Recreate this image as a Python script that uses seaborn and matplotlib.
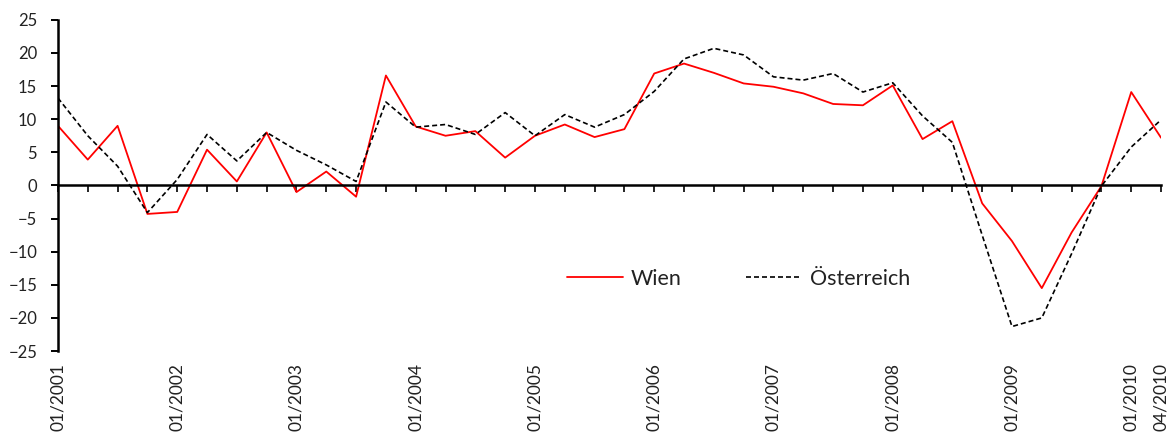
import matplotlib
matplotlib.use("Agg")
import matplotlib.pyplot as plt
import seaborn as sns
import pandas as pd

# Quartale 01/2001 bis 04/2010
years = list(range(2001, 2011))
months = ["01", "04", "07", "10"]
quarters = [f"{m}/{y}" for y in years for m in months][:38]

wien = [9.0, 3.9, 9.0, -4.3, -4.0, 5.4, 0.6, 8.0, -1.0, 2.1, -1.7, 16.6,
        8.9, 7.5, 8.2, 4.2, 7.5, 9.2, 7.3, 8.5, 16.9, 18.4, 17.0, 15.4,
        14.9, 13.9, 12.3, 12.1, 15.1, 7.0, 9.7, -2.7, -8.4, -15.5, -7.1, -0.1, 14.1, 7.2]
oesterreich = [13.2, 7.5, 2.9, -4.1, 0.9, 7.7, 3.7, 8.0, 5.3, 3.1, 0.6, 12.6,
               8.8, 9.2, 7.7, 11.0, 7.5, 10.7, 8.8, 10.7, 14.2, 19.1, 20.7, 19.7,
               16.4, 15.9, 16.9, 14.1, 15.5, 10.5, 6.5, -7.5, -21.3, -20.0, -10.3, -0.1, 5.8, 9.9]

shown_labels = [q for q in quarters if q.startswith("01/")] + [quarters[-1]]

data = pd.DataFrame({"pos": range(len(quarters)), "Quartal": quarters,
                     "Wien": wien, "Österreich": oesterreich})

sns.set_style("white")
plt.rcParams["font.family"] = ["Lato", "DejaVu Sans"]
text_col = "#222222"

fig = plt.figure(figsize=(11.71, 4.41), dpi=100)
ax = fig.add_axes([0.0495, 0.204, 0.942, 0.751])

sns.lineplot(data=data, x="pos", y="Wien", ax=ax, color="#ff0000",
             linewidth=1.3, label="Wien")
sns.lineplot(data=data, x="pos", y="Österreich", ax=ax, color="black",
             linewidth=1.2, linestyle=(0, (3, 1.8)), label="Österreich")

ax.set_xlim(0, len(quarters) - 1)
ax.set_ylim(-25, 25)
ax.set_yticks(range(-25, 30, 5))
ax.set_xlabel("")
ax.set_ylabel("")

# Achsen: linke Achse, x-Achse auf der Nulllinie
for s in ["top", "right"]:
    ax.spines[s].set_visible(False)
ax.spines["left"].set_linewidth(1.8)
ax.spines["left"].set_color("black")
ax.spines["bottom"].set_position(("data", 0))
ax.spines["bottom"].set_linewidth(1.8)
ax.spines["bottom"].set_color("black")

ax.set_xticks(data["pos"])
ax.set_xticklabels([])
ax.tick_params(axis="x", direction="out", length=5, width=1.2, color="black", bottom=True)
ax.tick_params(axis="y", direction="out", length=5, width=1.4, color="black", left=True,
               labelsize=12, labelcolor=text_col, pad=10)

# Beschriftung der Quartale unten
for q in shown_labels:
    ax.text(quarters.index(q), -0.035, q, transform=ax.get_xaxis_transform(),
            rotation=90, ha="center", va="top", fontsize=12.5, color=text_col)

leg = ax.legend(loc="center", bbox_to_anchor=(0.617, 0.218), ncol=2, frameon=False,
                fontsize=15.5, handlelength=2.6, columnspacing=3.0, handletextpad=0.35)
for t in leg.get_texts():
    t.set_color(text_col)

fig.savefig("out.png", dpi=100)
